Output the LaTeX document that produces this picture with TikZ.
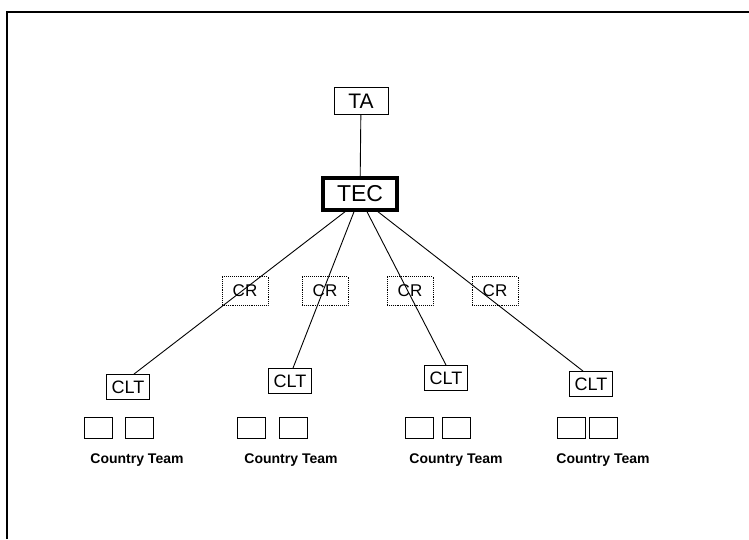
\documentclass[tikz,border=0pt]{standalone}
\usepackage{fontspec}
\setmainfont{Liberation Sans}
\usetikzlibrary{calc,positioning}

\begin{document}
\begin{tikzpicture}[x=1pt,y=-1pt, every node/.style={inner sep=0pt},
    box/.style={draw, rectangle, line width=0.9pt},
    crbox/.style={draw, rectangle, densely dotted, line width=0.9pt, minimum width=46pt, minimum height=29pt, font=\fontsize{17}{18}\selectfont},
    cltbox/.style={draw, rectangle, line width=0.9pt, minimum width=43pt, minimum height=25pt, font=\fontsize{18}{20}\selectfont},
    member/.style={draw, rectangle, line width=0.9pt, minimum width=28pt, minimum height=21pt},
    teamlabel/.style={font=\bfseries\fontsize{14}{16}\selectfont}]
    \useasboundingbox (0,0) rectangle (749,539);
    \draw[line width=2.5pt] (7,539) -- (7,12) -- (749,12);
    \node[box, minimum width=54pt, minimum height=27pt, font=\fontsize{21}{23}\selectfont] (ta) at (361,101) {TA};
    \node[box, line width=3.5pt, minimum width=74pt, minimum height=32pt, font=\fontsize{23}{25}\selectfont] (tec) at (360,194) {TEC};
    \draw[line width=0.9pt] (ta) -- (tec);
    % coordination
    \node[crbox] (cr1) at (245,291) {CR};
    \node[crbox] (cr2) at (325,291) {CR};
    \node[crbox] (cr3) at (410,291) {CR};
    \node[crbox] (cr4) at (495,291) {CR};
    % country leaders
    \node[cltbox] (clt1) at (128,387) {CLT};
    \node[cltbox] (clt2) at (290,381) {CLT};
    \node[cltbox] (clt3) at (446,378) {CLT};
    \node[cltbox] (clt4) at (591,384) {CLT};
    \draw[line width=0.9pt] ($(tec.south)+(-15,0)$) -- ($(clt1.north)+(6,0)$);
    \draw[line width=0.9pt] ($(tec.south)+(-6,0)$) -- ($(clt2.north)+(3,0)$);
    \draw[line width=0.9pt] ($(tec.south)+(7,0)$) -- (clt3.north);
    \draw[line width=0.9pt] ($(tec.south)+(18,0)$) -- ($(clt4.north)+(-8,0)$);
    % country teams
    \node[member] (m1a) at (98,428) {};
    \node[member] (m1b) at (139,428) {};
    \node[member] (m2a) at (251,428) {};
    \node[member] (m2b) at (293,428) {};
    \node[member] (m3a) at (419,428) {};
    \node[member] (m3b) at (456,428) {};
    \node[member] (m4a) at (571,428) {};
    \node[member] (m4b) at (603,428) {};
    \node[teamlabel] (team1) at (137,460) {Country Team};
    \node[teamlabel] (team2) at (291,460) {Country Team};
    \node[teamlabel] (team3) at (456,460) {Country Team};
    \node[teamlabel] (team4) at (603,460) {Country Team};
\end{tikzpicture}
\end{document}
